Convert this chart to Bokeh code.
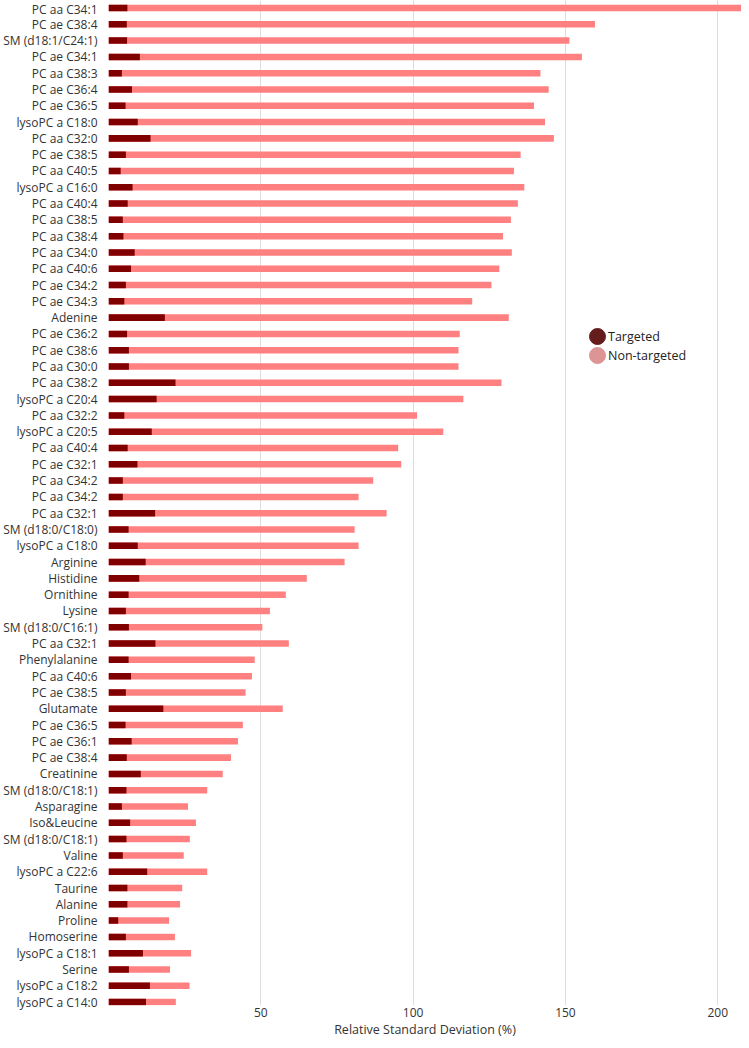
from bokeh.plotting import figure
from bokeh.models import Range1d, FixedTicker, Legend, LegendItem, ColumnDataSource
from bokeh.embed import file_html
from bokeh.resources import INLINE

categories = [
    "PC aa C34:1", "PC ae C38:4", "SM (d18:1/C24:1)", "PC ae C34:1", "PC aa C38:3",
    "PC ae C36:4", "PC ae C36:5", "lysoPC a C18:0", "PC aa C32:0", "PC ae C38:5",
    "PC aa C40:5", "lysoPC a C16:0", "PC aa C40:4", "PC aa C38:5", "PC aa C38:4",
    "PC aa C34:0", "PC aa C40:6", "PC ae C34:2", "PC ae C34:3", "Adenine",
    "PC ae C36:2", "PC ae C38:6", "PC aa C30:0", "PC aa C38:2", "lysoPC a C20:4",
    "PC aa C32:2", "lysoPC a C20:5", "PC aa C40:4", "PC ae C32:1", "PC aa C34:2",
    "PC aa C34:2", "PC aa C32:1", "SM (d18:0/C18:0)", "lysoPC a C18:0", "Arginine",
    "Histidine", "Ornithine", "Lysine", "SM (d18:0/C16:1)", "PC aa C32:1",
    "Phenylalanine", "PC aa C40:6", "PC ae C38:5", "Glutamate", "PC ae C36:5",
    "PC ae C36:1", "PC ae C38:4", "Creatinine", "SM (d18:0/C18:1)", "Asparagine",
    "Iso&Leucine", "SM (d18:0/C18:1)", "Valine", "lysoPC a C22:6", "Taurine",
    "Alanine", "Proline", "Homoserine", "lysoPC a C18:1", "Serine",
    "lysoPC a C18:2", "lysoPC a C14:0",
]

targeted = [
    6.2, 6.0, 6.1, 10.3, 4.4, 7.7, 5.6, 9.6, 13.8, 5.7,
    4.0, 7.9, 6.3, 4.7, 4.9, 8.6, 7.4, 5.7, 5.2, 18.5,
    6.1, 6.7, 6.7, 22.0, 15.8, 5.2, 14.2, 6.3, 9.5, 4.7,
    4.7, 15.3, 6.6, 9.6, 12.2, 10.1, 6.6, 5.7, 6.7, 15.4,
    6.6, 7.4, 5.7, 18.0, 5.6, 7.6, 6.0, 10.6, 5.9, 4.4,
    7.1, 5.9, 4.7, 12.7, 6.2, 6.2, 3.2, 5.7, 11.3, 6.7,
    13.6, 12.3,
]

non_targeted = [
    215.0, 159.7, 151.3, 155.4, 141.8, 144.5, 139.7, 143.3, 146.2, 135.3,
    133.1, 136.5, 134.4, 132.1, 129.5, 132.4, 128.3, 125.7, 119.4, 131.4,
    115.3, 114.9, 114.9, 129.0, 116.5, 101.3, 109.9, 95.1, 96.1, 86.9,
    82.1, 91.3, 80.8, 82.1, 77.5, 65.1, 58.2, 53.0, 50.5, 59.2,
    48.0, 47.1, 45.0, 57.2, 44.1, 42.5, 40.2, 37.5, 32.4, 26.1,
    28.7, 26.7, 24.7, 32.4, 24.2, 23.5, 19.9, 21.8, 27.1, 20.2,
    26.6, 22.1,
]

x_ticks = [0, 50, 100, 150, 200]
legend_labels = ["Targeted", "Non-targeted"]
legend_colors = ["#641c1c", "#dd9494"]

idx = list(range(len(categories)))
src = ColumnDataSource(dict(y=idx, t=targeted, n=non_targeted))

FONT = "Open Sans"
TXT = "#333333"

p = figure(
    width=741, height=1040,
    x_range=Range1d(0, 207.8),
    y_range=Range1d(61.21, -0.46),
    output_backend="svg", toolbar_location=None,
    min_border_left=107, min_border_right=0, min_border_top=0, min_border_bottom=33,
)
p.outline_line_color = None
p.background_fill_color = "white"
p.border_fill_color = "white"

p.hbar(y="y", left=0, right="n", height=0.4, source=src, fill_color="#ff8080", line_color=None)
p.hbar(y="y", left=0, right="t", height=0.4, source=src, fill_color="#800000", line_color=None)

# Axes
p.xaxis.ticker = FixedTicker(ticks=x_ticks)
p.xaxis.major_label_overrides = {0: ""}
p.xaxis.axis_line_color = None
p.xaxis.major_tick_line_color = None
p.xaxis.minor_tick_line_color = None
p.xaxis.major_tick_out = 0
p.xaxis.major_tick_in = 0
p.xaxis.major_label_standoff = 2
p.xaxis.axis_label = "Relative Standard Deviation (%)"
p.xaxis.axis_label_standoff = 1
p.xaxis.axis_label_text_font = FONT
p.xaxis.axis_label_text_font_style = "normal"
p.xaxis.axis_label_text_font_size = "12.5px"
p.xaxis.axis_label_text_color = TXT
p.xaxis.major_label_text_font = FONT
p.xaxis.major_label_text_font_size = "12px"
p.xaxis.major_label_text_color = TXT

p.yaxis.ticker = FixedTicker(ticks=idx)
p.yaxis.major_label_overrides = {i: c for i, c in enumerate(categories)}
p.yaxis.axis_line_color = None
p.yaxis.major_tick_line_color = None
p.yaxis.minor_tick_line_color = None
p.yaxis.major_tick_out = 0
p.yaxis.major_tick_in = 0
p.yaxis.major_label_standoff = 11
p.yaxis.major_label_text_font = FONT
p.yaxis.major_label_text_font_size = "12px"
p.yaxis.major_label_text_color = TXT

p.xgrid.grid_line_color = "#dddddd"
p.xgrid.grid_line_width = 1
p.ygrid.grid_line_color = None

# Legend (two single-item legends stacked); ellipse proxies give 16px dots
nan = float("nan")
legend_locs = [(479, 659), (479, 640)]
for lab, col, loc in zip(legend_labels, legend_colors, legend_locs):
    r = p.ellipse(x=[nan], y=[nan], width=16, height=16,
                  width_units="screen", height_units="screen",
                  fill_color=col, line_color=col)
    lg = Legend(
        items=[LegendItem(label=lab, renderers=[r])],
        location=loc,
        glyph_width=20, glyph_height=20, label_standoff=1,
        label_height=20,
        padding=0, margin=0,
        background_fill_alpha=0, border_line_alpha=0,
        label_text_font=FONT, label_text_font_size="12.5px", label_text_color="#222222",
    )
    p.add_layout(lg)

open("out.html", "w").write(file_html(p, INLINE))
